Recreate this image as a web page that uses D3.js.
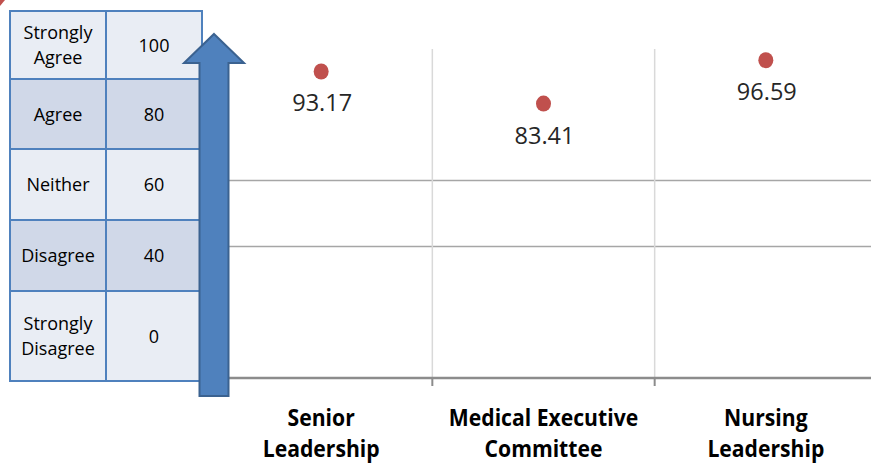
<!DOCTYPE html>
<html>
<head>
<meta charset="utf-8">
<script src="https://cdn.jsdelivr.net/npm/d3@7"></script>
<style>
  html, body { margin: 0; padding: 0; background: #ffffff; }
  svg { display: block; }
</style>
</head>
<body>
<svg id="chart" width="871" height="465"></svg>
<script>
// ---- data ----
const categories = ["Senior Leadership", "Medical Executive Committee", "Nursing Leadership"];
const categoryLines = [["Senior", "Leadership"], ["Medical Executive", "Committee"], ["Nursing", "Leadership"]];
const values = [93.17, 83.41, 96.59];
const gridValues = [40, 60];
const scaleLabels = [["Strongly", "Agree"], ["Agree"], ["Neither"], ["Disagree"], ["Strongly", "Disagree"]];
const scaleValues = ["100", "80", "60", "40", "0"];

// ---- layout ----
const W = 871, H = 465;
const plot = { left: 210, right: 877, top: 49, bottom: 378 };
const font = "'Open Sans', 'Noto Sans', sans-serif";

const svg = d3.select("#chart");

const x = d3.scaleBand().domain(categories).range([plot.left, plot.right]).padding(0);
const y = d3.scaleLinear().domain([0, 100]).range([plot.bottom, plot.top]);

// corner mark
svg.append("path").attr("d", "M0,0 L5,0 L0,6 Z").attr("fill", "#c0504d");

// horizontal gridlines
svg.selectAll("line.hgrid").data(gridValues).enter().append("line")
  .attr("class", "hgrid")
  .attr("x1", plot.left).attr("x2", W)
  .attr("y1", d => y(d)).attr("y2", d => y(d))
  .attr("stroke", "#a6a6a6").attr("stroke-width", 1.5);

// vertical gridlines at category boundaries
const boundaries = categories.slice(1).map(c => x(c));
svg.selectAll("line.vgrid").data(boundaries).enter().append("line")
  .attr("class", "vgrid")
  .attr("x1", d => d).attr("x2", d => d)
  .attr("y1", y(100)).attr("y2", y(0))
  .attr("stroke", "#d9d9d9").attr("stroke-width", 1.5);

// x axis line and ticks
svg.append("line")
  .attr("x1", plot.left).attr("x2", W)
  .attr("y1", y(0)).attr("y2", y(0))
  .attr("stroke", "#8c8c8c").attr("stroke-width", 2.5);
svg.selectAll("line.tick").data(boundaries).enter().append("line")
  .attr("class", "tick")
  .attr("x1", d => d).attr("x2", d => d)
  .attr("y1", y(0)).attr("y2", y(0) + 8)
  .attr("stroke", "#8c8c8c").attr("stroke-width", 2);

// category labels
const catG = svg.selectAll("g.cat").data(categories).enter().append("g")
  .attr("class", "cat");
catG.each(function(c, i) {
  const g = d3.select(this);
  categoryLines[i].forEach((line, j) => {
    g.append("text")
      .attr("transform", `translate(${x(c) + x.bandwidth() / 2},${426 + j * 30.5}) scale(0.9,1)`)
      .attr("text-anchor", "middle")
      .attr("font-family", font)
      .attr("font-weight", "bold")
      .attr("font-size", 23.5)
      .attr("fill", "#000")
      .text(line);
  });
});

// points
const pts = categories.map((c, i) => ({ c, v: values[i] }));
svg.selectAll("ellipse.pt").data(pts).enter().append("ellipse")
  .attr("class", "pt")
  .attr("cx", d => x(d.c) + x.bandwidth() / 2)
  .attr("cy", d => y(d.v))
  .attr("rx", 7.5).attr("ry", 8)
  .attr("fill", "#c0504d");

// value labels
svg.selectAll("text.val").data(pts).enter().append("text")
  .attr("class", "val")
  .attr("x", d => x(d.c) + x.bandwidth() / 2 + 1)
  .attr("y", d => y(d.v) + 40)
  .attr("text-anchor", "middle")
  .attr("font-family", font)
  .attr("font-size", 23.5)
  .attr("fill", "#262626")
  .text(d => d.v.toFixed(2));

// ---- rating table ----
const table = { left: 10, mid: 106, right: 202, top: 11 };
const rowHeights = [68, 70, 71, 71, 90];
const rowTops = [];
rowHeights.reduce((acc, h) => { rowTops.push(acc); return acc + h; }, table.top);
const rows = scaleLabels.map((l, i) => ({ label: l, value: scaleValues[i], top: rowTops[i], h: rowHeights[i], i }));

const rowG = svg.selectAll("g.row").data(rows).enter().append("g").attr("class", "row");
rowG.append("rect")
  .attr("x", table.left).attr("y", d => d.top)
  .attr("width", table.right - table.left).attr("height", d => d.h)
  .attr("fill", d => d.i % 2 === 0 ? "#e9edf4" : "#d0d8e8")
  .attr("stroke", "#4f81bd").attr("stroke-width", 2);
rowG.append("line")
  .attr("x1", table.mid).attr("x2", table.mid)
  .attr("y1", d => d.top).attr("y2", d => d.top + d.h)
  .attr("stroke", "#4f81bd").attr("stroke-width", 2);
rowG.each(function(d) {
  const g = d3.select(this);
  const cy = d.top + d.h / 2;
  const n = d.label.length;
  d.label.forEach((line, j) => {
    g.append("text")
      .attr("x", (table.left + table.mid) / 2)
      .attr("y", cy + 6.5 + (j - (n - 1) / 2) * 25)
      .attr("text-anchor", "middle")
      .attr("font-family", font)
      .attr("font-size", 18)
      .attr("fill", "#000")
      .text(line);
  });
  g.append("text")
    .attr("x", (table.mid + table.right) / 2)
    .attr("y", cy + 6.5)
    .attr("text-anchor", "middle")
    .attr("font-family", font)
    .attr("font-size", 18)
    .attr("fill", "#000")
    .text(d.value);
});

// ---- upward arrow ----
const ax = 214, tipY = 34, headY = 63, headHalf = 30, shaftHalf = 14.5, baseY = 396;
svg.append("path")
  .attr("d", `M${ax},${tipY} L${ax + headHalf},${headY} L${ax + shaftHalf},${headY} L${ax + shaftHalf},${baseY} L${ax - shaftHalf},${baseY} L${ax - shaftHalf},${headY} L${ax - headHalf},${headY} Z`)
  .attr("fill", "#4f81bd")
  .attr("stroke", "#3b6290")
  .attr("stroke-width", 2)
  .attr("stroke-linejoin", "miter");
</script>
</body>
</html>
